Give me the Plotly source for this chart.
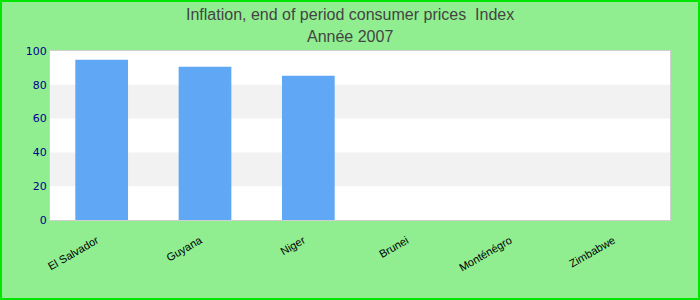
import plotly.graph_objects as go

categories = ["El Salvador", "Guyana", "Niger", "Brunei", "Monténégro", "Zimbabwe"]
values = [94.8, 90.7, 85.4, None, None, None]
y_ticks = [0, 20, 40, 60, 80, 100]
title_lines = ["Inflation, end of period consumer prices  Index", "Année 2007"]

L, R, T, B = 50, 30, 51, 80
W, H = 700, 300
pw, ph = W - L - R, H - T - B

fig = go.Figure()
fig.add_trace(go.Bar(x=categories, y=values, marker_color="#60a8f5", width=0.51,
                     marker_line_width=0))

shapes = []
for i in range(0, len(y_ticks) - 1):
    if i % 2 == 1:
        shapes.append(dict(type="rect", xref="paper", yref="y", x0=0, x1=1,
                           y0=y_ticks[i], y1=y_ticks[i + 1], fillcolor="#f2f2f2",
                           line_width=0, layer="below"))
shapes.append(dict(type="rect", xref="paper", yref="paper",
                   x0=(1 - L) / pw, x1=(W - 1 - L) / pw,
                   y0=-(B - 1) / ph, y1=1 + (T - 1) / ph,
                   line=dict(color="#00e600", width=2), fillcolor="rgba(0,0,0,0)", layer="above"))

def py(pix):
    return 1 + (T - pix) / ph

annotations = []
for txt, pix in zip(title_lines, [14, 36]):
    annotations.append(dict(text=txt, xref="paper", yref="paper", x=0.5 - 0.0 * 0 + (350 - L - pw / 2) / pw,
                             y=py(pix), xanchor="center", yanchor="middle", showarrow=False,
                             font=dict(family="Liberation Sans, Arial", size=16, color="#444444")))

fig.update_layout(
    width=W, height=H,
    margin=dict(l=L, r=R, t=T, b=B),
    paper_bgcolor="#90ee90",
    plot_bgcolor="white",
    showlegend=False,
    shapes=shapes,
    annotations=annotations,
    xaxis=dict(tickangle=-30, tickfont=dict(family="Liberation Sans, Arial", size=11, color="black"),
               showline=True, linecolor="#d0d0d0", mirror=True, linewidth=1, ticks="",
               ticklabelstandoff=9, ticklabelshift=-5),
    yaxis=dict(range=[0, 100], tickvals=y_ticks, showgrid=False, zeroline=False,
               tickfont=dict(family="DejaVu Sans", size=11, color="#00008b"),
               showline=True, linecolor="#d0d0d0", mirror=True, linewidth=1, ticks=""),
)
fig.write_html("out.html")
